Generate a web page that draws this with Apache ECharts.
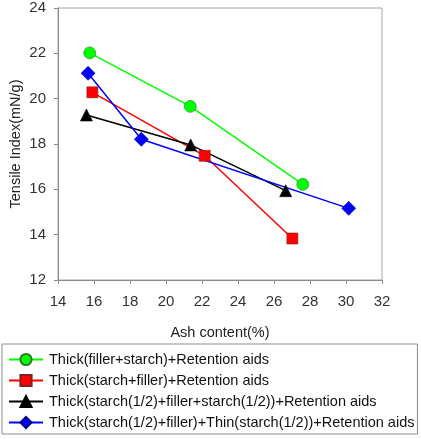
<!DOCTYPE html>
<html><head><meta charset="utf-8">
<script src="https://cdn.jsdelivr.net/npm/echarts@6/dist/echarts.min.js"></script>
<style>html,body{margin:0;padding:0;background:#fff}#c{width:421px;height:439px}</style>
</head><body><div id="c"></div>
<script>
const seriesNames = [
  'Thick(filler+starch)+Retention aids',
  'Thick(starch+filler)+Retention aids',
  'Thick(starch(1/2)+filler+starch(1/2))+Retention aids',
  'Thick(starch(1/2)+filler)+Thin(starch(1/2))+Retention aids'
];
const greenData = [[15.76, 22.02], [21.35, 19.66], [27.6, 16.22]];
const redData = [[15.91, 20.28], [22.15, 17.48], [27.02, 13.83]];
const blackData = [[15.58, 19.28], [21.37, 17.96], [26.65, 15.94]];
const blueData = [[15.67, 21.12], [18.63, 18.21], [30.15, 15.16]];
const xTicks = {min: 14, max: 32, interval: 2};
const yTicks = {min: 12, max: 24, interval: 2};

const font = 'Liberation Sans, Arial, sans-serif';
function mk(name, data, color, symbol, size, border) {
  return {
    name, type: 'line', data, symbol, symbolSize: size,
    lineStyle: {color, width: 1.5},
    itemStyle: {color, borderColor: border, borderWidth: 0.6},
    emphasis: {disabled: true}, animation: false, z: 3
  };
}
const chart = echarts.init(document.getElementById('c'), null, {renderer: 'canvas'});
chart.setOption({
  animation: false,
  grid: {left: 58, right: 39, top: 8, bottom: 159, show: true, borderColor: '#a6a6a6', borderWidth: 1,
         containLabel: false, outerBoundsMode: 'none'},
  xAxis: {
    type: 'value', min: xTicks.min, max: xTicks.max, interval: xTicks.interval,
    name: 'Ash content(%)', nameLocation: 'middle', nameGap: 45, nameMoveOverlap: false,
    nameTextStyle: {fontFamily: font, fontSize: 14.5, color: '#222'},
    axisLine: {show: true, lineStyle: {color: '#8c8c8c'}},
    axisTick: {show: true, length: 4, lineStyle: {color: '#8c8c8c'}},
    axisLabel: {fontFamily: font, fontSize: 15, color: '#333', margin: 14},
    splitLine: {show: false}
  },
  yAxis: {
    type: 'value', min: yTicks.min, max: yTicks.max, interval: yTicks.interval,
    name: 'Tensile Index(mN/g)', nameLocation: 'middle', nameGap: 35, nameMoveOverlap: false,
    nameTextStyle: {fontFamily: font, fontSize: 14.5, color: '#222'},
    axisLine: {show: true, lineStyle: {color: '#8c8c8c'}},
    axisTick: {show: true, length: 4, lineStyle: {color: '#8c8c8c'}},
    axisLabel: {fontFamily: font, fontSize: 15, color: '#333', margin: 12},
    splitLine: {show: false}
  },
  legend: {
    orient: 'vertical', left: 2, top: 344,
    padding: [8, 3, 4, 6], itemGap: 6,
    itemWidth: 34, itemHeight: 14,
    borderColor: '#8c8c8c', borderWidth: 1,
    textStyle: {fontFamily: font, fontSize: 14.5, color: '#111', padding: [0, 0, 0, 1]},
    data: seriesNames
  },
  series: [
    mk(seriesNames[0], greenData, '#00ff00', 'circle', 12, '#2a7a2a'),
    mk(seriesNames[1], redData, '#ff0000', 'rect', 11, '#802020'),
    mk(seriesNames[2], blackData, '#000000', 'triangle', 12, '#000'),
    mk(seriesNames[3], blueData, '#0000ff', 'diamond', 14, '#000080')
  ]
});
</script></body></html>
